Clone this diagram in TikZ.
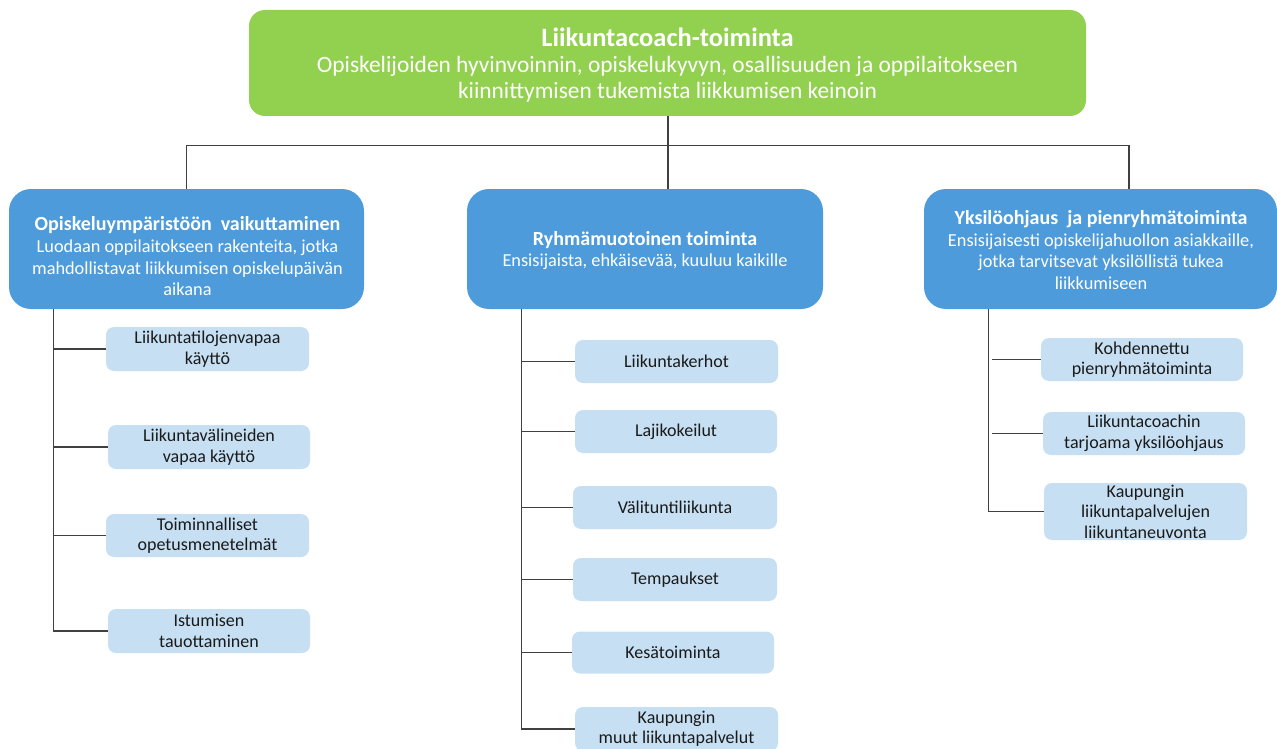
\documentclass[tikz,border=0pt]{standalone}
\usepackage{fontspec}
\setmainfont{Carlito}
\usetikzlibrary{calc}
\definecolor{topgreen}{HTML}{92D050}
\definecolor{midblue}{HTML}{4D9BDA}
\definecolor{lightblue}{HTML}{C6DFF2}
\definecolor{linegray}{HTML}{404040}
\definecolor{textdark}{HTML}{1A1A1A}
\begin{document}
\begin{tikzpicture}[x=1pt,y=-1pt,
  topbox/.style={fill=topgreen, rounded corners=16pt, minimum width=837pt, minimum height=106pt, inner sep=0pt},
  bluebox/.style={fill=midblue, rounded corners=22pt, minimum height=120pt, inner sep=0pt},
  whitetext/.style={text=white, align=center, inner sep=0pt, font=\fontsize{18.3}{21.5}\selectfont},
  childbox/.style={fill=lightblue, rounded corners=8pt, minimum width=203pt, minimum height=44pt, inner sep=0pt,
    text=textdark, align=center, font=\fontsize{18}{20.5}\selectfont},
  conn/.style={draw=linegray, line width=1.1pt}]
\useasboundingbox (0,0) rectangle (1277,749);

% top box
\node[topbox] (T) at (667.5,63) {};
\node[whitetext, font=\fontsize{23.4}{26}\selectfont] (Tt) at (667.5,65) {{\fontsize{26.5}{28}\selectfont\bfseries Liikuntacoach-toiminta}\\
  Opiskelijoiden hyvinvoinnin, opiskelukyvyn, osallisuuden ja oppilaitokseen\\
  kiinnittymisen tukemista liikkumisen keinoin};

% blue boxes
\node[bluebox, minimum width=355pt] (L) at (186.5,249) {};
\node[whitetext] (Lt) at (187.5,256) {{\fontsize{20}{22}\selectfont\bfseries Opiskeluympäristöön~ vaikuttaminen}\\[1pt]
  Luodaan oppilaitokseen rakenteita, jotka\\ mahdollistavat liikkumisen opiskelupäivän\\ aikana};

\node[bluebox, minimum width=356pt] (M) at (645,249) {};
\node[whitetext] (Mt) at (645,250.5) {{\fontsize{20}{22}\selectfont\bfseries Ryhmämuotoinen toiminta}\\
  Ensisijaista, ehkäisevää, kuuluu kaikille};

\node[bluebox, minimum width=353pt] (R) at (1100.5,249) {};
\node[whitetext] (Rt) at (1101,250) {{\fontsize{20}{22}\selectfont\bfseries Yksilöohjaus~ ja pienryhmätoiminta}\\
  Ensisijaisesti opiskelijahuollon asiakkaille,\\ jotka tarvitsevat yksilöllistä tukea\\ liikkumiseen};

% left children
\node[childbox] (L1) at (207.5,349) {Liikuntatilojenvapaa\\ käyttö};
\node[childbox, minimum width=202pt] (L2) at (209,447) {Liikuntavälineiden\\ vapaa käyttö};
\node[childbox, minimum height=43pt] (L3) at (207.5,535.5) {Toiminnalliset\\ opetusmenetelmät};
\node[childbox, minimum width=202pt] (L4) at (209,631) {Istumisen\\ tauottaminen};

% middle children
\node[childbox, minimum height=43pt] (M1) at (676.5,361.5) {Liikuntakerhot};
\node[childbox, minimum width=202pt, minimum height=43pt] (M2) at (676,431.5) {Lajikokeilut};
\node[childbox, minimum width=204pt, minimum height=43pt] (M3) at (675,507.5) {Välituntiliikunta};
\node[childbox, minimum width=204pt, minimum height=43pt] (M4) at (675,579.5) {Tempaukset};
\node[childbox, minimum width=202pt, minimum height=42pt] (M5) at (673,652.5) {Kesätoiminta};
\node[childbox] (M6) at (676.5,729) {Kaupungin\\ muut liikuntapalvelut};

% right children
\node[childbox, minimum width=202pt, minimum height=43pt] (R1) at (1142,359.5) {Kohdennettu\\ pienryhmätoiminta};
\node[childbox, minimum width=202pt, minimum height=43pt] (R2) at (1144,433.5) {Liikuntacoachin\\ tarjoama yksilöohjaus};
\node[childbox, minimum height=57pt] (R3) at (1145.5,511.5) {Kaupungin\\ liikuntapalvelujen\\ liikuntaneuvonta};

% top connectors
\coordinate (J) at ($(T.south)+(0.5,29)$);
\coordinate (Rtop) at ($(R.north)+(28.5,0)$);
\draw[conn] (T.south -| J) -- (J);
\draw[conn] (L.north) |- (J) -| (Rtop);
\draw[conn] (J) -- (M.north -| J);

% left tree
\coordinate (Lv) at ($(L.south west)+(45,0)$);
\draw[conn] (Lv) |- (L4.west);
\foreach \n in {L1,L2,L3} \draw[conn] (Lv |- \n.west) -- (\n.west);

% middle tree
\coordinate (Mv) at ($(M.south west)+(55,0)$);
\draw[conn] (Mv) |- (M6.west);
\foreach \n in {M1,M2,M3,M4,M5} \draw[conn] (Mv |- \n.west) -- (\n.west);

% right tree
\coordinate (Rv) at ($(R.south west)+(65,0)$);
\draw[conn] (Rv) |- (R3.west);
\foreach \n in {R1,R2} \draw[conn] ($(Rv |- \n.west)+(3,0)$) -- (\n.west);
\end{tikzpicture}
\end{document}
